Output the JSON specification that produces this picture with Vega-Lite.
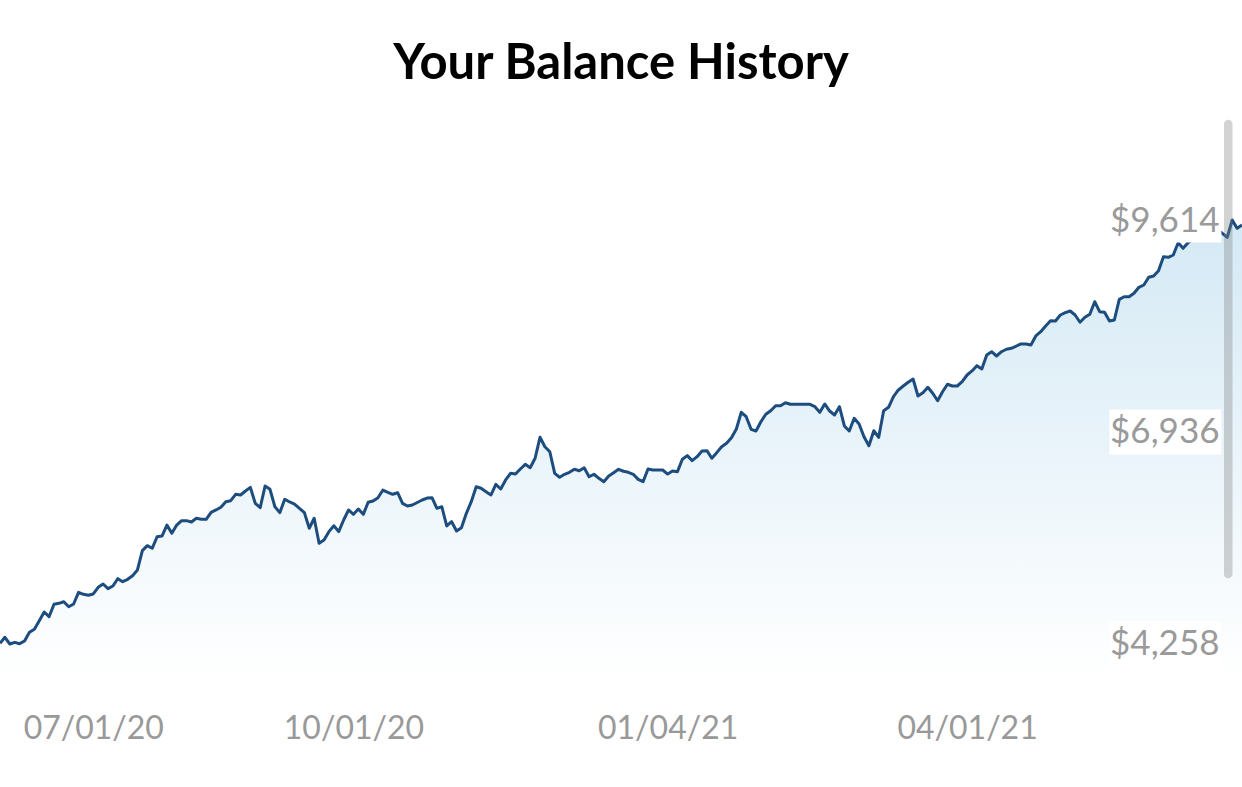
{
"$schema": "https://vega.github.io/schema/vega-lite/v6.json",
"width": 1242, "height": 580,
"autosize": {"type": "none"},
"padding": {"top": 100, "left": 0, "right": 0, "bottom": 107},
"background": "white",
"config": {"view": {"stroke": null}},
"title": {"text": "Your Balance History", "font": "Lato", "fontWeight": "bold", "fontSize": 49, "color": "#000000", "anchor": "middle", "baseline": "alphabetic", "offset": -28, "frame": "group"},
"datasets": {
"balance": [
{"day":0,"balance":4267},{"day":1,"balance":4343},{"day":2,"balance":4258},{"day":3,"balance":4279},{"day":4,"balance":4262},{"day":5,"balance":4296},{"day":6,"balance":4406},{"day":7,"balance":4444},{"day":8,"balance":4552},{"day":9,"balance":4662},
{"day":10,"balance":4603},{"day":11,"balance":4760},{"day":12,"balance":4772},{"day":13,"balance":4792},{"day":14,"balance":4729},{"day":15,"balance":4763},{"day":16,"balance":4911},{"day":17,"balance":4886},{"day":18,"balance":4873},{"day":19,"balance":4890},
{"day":20,"balance":4974},{"day":21,"balance":5016},{"day":22,"balance":4957},{"day":23,"balance":4991},{"day":24,"balance":5083},{"day":25,"balance":5045},{"day":26,"balance":5075},{"day":27,"balance":5121},{"day":28,"balance":5193},{"day":29,"balance":5437},
{"day":30,"balance":5500},{"day":31,"balance":5467},{"day":32,"balance":5613},{"day":33,"balance":5622},{"day":34,"balance":5761},{"day":35,"balance":5656},{"day":36,"balance":5761},{"day":37,"balance":5816},{"day":38,"balance":5816},{"day":39,"balance":5799},
{"day":40,"balance":5846},{"day":41,"balance":5833},{"day":42,"balance":5833},{"day":43,"balance":5922},{"day":44,"balance":5951},{"day":45,"balance":5985},{"day":46,"balance":6056},{"day":47,"balance":6068},{"day":48,"balance":6149},{"day":49,"balance":6140},
{"day":50,"balance":6191},{"day":51,"balance":6237},{"day":52,"balance":6035},{"day":53,"balance":5980},{"day":54,"balance":6254},{"day":55,"balance":6212},{"day":56,"balance":5992},{"day":57,"balance":5917},{"day":58,"balance":6086},{"day":59,"balance":6052},
{"day":60,"balance":6026},{"day":61,"balance":5972},{"day":62,"balance":5917},{"day":63,"balance":5720},{"day":64,"balance":5846},{"day":65,"balance":5530},{"day":66,"balance":5572},{"day":67,"balance":5677},{"day":68,"balance":5752},{"day":69,"balance":5677},
{"day":70,"balance":5824},{"day":71,"balance":5951},{"day":72,"balance":5896},{"day":73,"balance":5963},{"day":74,"balance":5896},{"day":75,"balance":6048},{"day":76,"balance":6064},{"day":77,"balance":6106},{"day":78,"balance":6203},{"day":79,"balance":6174},
{"day":80,"balance":6149},{"day":81,"balance":6169},{"day":82,"balance":6035},{"day":83,"balance":6001},{"day":84,"balance":6014},{"day":86,"balance":6077},{"day":87,"balance":6102},{"day":88,"balance":6106},{"day":89,"balance":5972},
{"day":90,"balance":5992},{"day":91,"balance":5749},{"day":92,"balance":5803},{"day":93,"balance":5685},{"day":94,"balance":5727},{"day":95,"balance":5909},{"day":96,"balance":6056},{"day":97,"balance":6245},{"day":98,"balance":6225},{"day":99,"balance":6182},
{"day":100,"balance":6140},{"day":101,"balance":6275},{"day":102,"balance":6216},{"day":103,"balance":6330},{"day":104,"balance":6414},{"day":105,"balance":6405},{"day":106,"balance":6469},{"day":107,"balance":6528},{"day":108,"balance":6485},{"day":109,"balance":6604},
{"day":110,"balance":6869},{"day":111,"balance":6750},{"day":112,"balance":6687},{"day":113,"balance":6414},{"day":114,"balance":6364},{"day":115,"balance":6402},{"day":116,"balance":6427},{"day":117,"balance":6465},{"day":118,"balance":6447},{"day":119,"balance":6485},
{"day":120,"balance":6371},{"day":121,"balance":6402},{"day":122,"balance":6351},{"day":123,"balance":6308},{"day":124,"balance":6380},{"day":125,"balance":6422},{"day":126,"balance":6465},{"day":127,"balance":6440},{"day":128,"balance":6427},{"day":129,"balance":6402},
{"day":130,"balance":6338},{"day":131,"balance":6308},{"day":132,"balance":6469},{"day":133,"balance":6456},{"day":134,"balance":6456},{"day":135,"balance":6456},{"day":136,"balance":6405},{"day":137,"balance":6443},{"day":138,"balance":6435},{"day":139,"balance":6591},
{"day":140,"balance":6637},{"day":141,"balance":6574},{"day":142,"balance":6624},{"day":143,"balance":6696},{"day":144,"balance":6700},{"day":145,"balance":6604},{"day":146,"balance":6675},{"day":147,"balance":6750},{"day":148,"balance":6793},{"day":149,"balance":6864},
{"day":150,"balance":6974},{"day":151,"balance":7185},{"day":152,"balance":7129},{"day":153,"balance":6970},{"day":154,"balance":6949},{"day":155,"balance":7066},{"day":156,"balance":7160},{"day":157,"balance":7205},{"day":158,"balance":7268},{"day":159,"balance":7268},
{"day":160,"balance":7306},{"day":161,"balance":7286},{"day":162,"balance":7286},{"day":163,"balance":7286},{"day":164,"balance":7286},{"day":165,"balance":7286},{"day":166,"balance":7256},{"day":167,"balance":7185},{"day":168,"balance":7290},{"day":169,"balance":7201},
{"day":170,"balance":7151},{"day":171,"balance":7256},{"day":172,"balance":7012},{"day":173,"balance":6949},{"day":174,"balance":7109},{"day":175,"balance":7037},{"day":176,"balance":6877},{"day":177,"balance":6763},{"day":178,"balance":6952},{"day":179,"balance":6869},
{"day":180,"balance":7205},{"day":181,"balance":7248},{"day":182,"balance":7382},{"day":183,"balance":7467},{"day":184,"balance":7517},{"day":185,"balance":7564},{"day":186,"balance":7605},{"day":187,"balance":7391},{"day":188,"balance":7432},{"day":189,"balance":7501},
{"day":190,"balance":7425},{"day":191,"balance":7331},{"day":192,"balance":7445},{"day":193,"balance":7539},{"day":194,"balance":7517},{"day":195,"balance":7517},{"day":196,"balance":7571},{"day":197,"balance":7656},{"day":198,"balance":7707},{"day":199,"balance":7774},
{"day":200,"balance":7732},{"day":201,"balance":7909},{"day":202,"balance":7950},{"day":203,"balance":7896},{"day":204,"balance":7950},{"day":205,"balance":7981},{"day":206,"balance":7993},{"day":208,"balance":8048},{"day":209,"balance":8048},
{"day":210,"balance":8035},{"day":211,"balance":8149},{"day":212,"balance":8203},{"day":213,"balance":8275},{"day":214,"balance":8342},{"day":215,"balance":8338},{"day":216,"balance":8414},{"day":217,"balance":8443},{"day":218,"balance":8464},{"day":219,"balance":8414},
{"day":220,"balance":8322},{"day":221,"balance":8385},{"day":222,"balance":8423},{"day":223,"balance":8582},{"day":224,"balance":8456},{"day":225,"balance":8448},{"day":226,"balance":8338},{"day":227,"balance":8351},{"day":228,"balance":8612},{"day":229,"balance":8645},
{"day":230,"balance":8645},{"day":231,"balance":8688},{"day":232,"balance":8764},{"day":233,"balance":8793},{"day":234,"balance":8890},{"day":235,"balance":8907},{"day":236,"balance":8974},{"day":237,"balance":9150},{"day":238,"balance":9143},{"day":239,"balance":9172},
{"day":240,"balance":9327},{"day":241,"balance":9256},{"day":242,"balance":9327},{"day":243,"balance":9374},{"day":244,"balance":9412},{"day":245,"balance":9386},{"day":246,"balance":9424},{"day":247,"balance":9462},{"day":248,"balance":9487},{"day":249,"balance":9446},
{"day":250,"balance":9395},{"day":251,"balance":9614},{"day":252,"balance":9509},{"day":253,"balance":9551}
],
"ticks": [{"v":9614},{"v":6936},{"v":4258}]
},
"layer": [
{
"data": {"name": "balance"},
"mark": {"type": "area", "color": {"gradient": "linear", "x1": 0, "y1": 0, "x2": 0, "y2": 1, "stops": [{"offset": 0, "color": "#d4e9f5"}, {"offset": 1, "color": "#ffffff"}]}},
"encoding": {
"x": {"field": "day", "type": "quantitative", "scale": {"domain": [0, 253], "nice": false, "zero": false},
"axis": {"values": [19, 72, 136, 197], "labelExpr": "{'19':'07/01/20','72':'10/01/20','136':'01/04/21','197':'04/01/21'}[datum.value]", "domain": false, "ticks": false, "grid": false, "title": null, "labelFont": "Lato", "labelFontWeight": 400, "labelFontSize": 32, "labelColor": "#999999", "labelPadding": 33, "labelOverlap": false}},
"y": {"field": "balance", "type": "quantitative", "scale": {"domain": [3803.2, 11129.9], "nice": false, "zero": false},
"axis": {"orient": "right", "values": [4258, 6936, 9614], "format": "$,d", "domain": false, "ticks": false, "grid": false, "title": null, "labelAlign": "right", "labelBaseline": "middle", "labelPadding": -23, "labelFont": "Lato", "labelFontWeight": 400, "labelFontSize": 35, "labelColor": "#9a9a9a", "zindex": 1, "labelOverlap": false}},
"y2": {"datum": 3803.2}
}
},
{
"data": {"name": "balance"},
"mark": {"type": "line", "color": "#1d4d7e", "strokeWidth": 3, "strokeJoin": "round"},
"encoding": {"x": {"field": "day", "type": "quantitative"}, "y": {"field": "balance", "type": "quantitative"}}
},
{
"data": {"name": "ticks"},
"mark": {"type": "rect", "color": "#ffffff", "height": 45},
"encoding": {"x": {"datum": 226.0, "type": "quantitative"}, "x2": {"datum": 248.8}, "y": {"field": "v", "type": "quantitative"}}
},
{
"data": {"values": [{"part": "scrollbar"}]},
"mark": {"type": "rule", "color": "#808080", "opacity": 0.35, "strokeWidth": 8.5, "strokeCap": "round"},
"encoding": {"x": {"datum": 250.2, "type": "quantitative"}, "y": {"datum": 10827, "type": "quantitative"}, "y2": {"datum": 5142}}
}
]
}
